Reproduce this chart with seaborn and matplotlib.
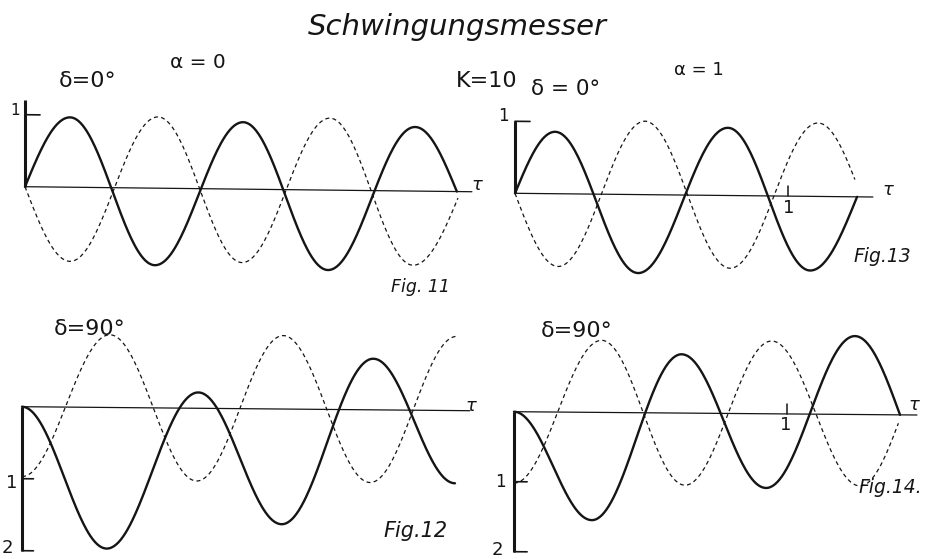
import numpy as np
import pandas as pd
import matplotlib
matplotlib.use("Agg")
import matplotlib.pyplot as plt
import matplotlib.transforms as mtransforms
import seaborn as sns

sns.set_theme(style="white")
plt.rcParams["font.family"] = ["DejaVu Sans"]

# ---- turning points of each trace (tau, amplitude) ----
# Fig. 11  (alpha = 0, delta = 0 deg)
fig11_solid_tau = [0.000, 0.165, 0.476, 0.799, 1.110, 1.429, 1.582]
fig11_solid_val = [0.00, 0.97, -1.07, 0.93, -1.11, 0.89, 0.00]
fig11_dash_tau = [0.000, 0.165, 0.487, 0.795, 1.117, 1.421, 1.586]
fig11_dash_val = [0.00, -1.03, 0.99, -1.02, 1.00, -1.03, -0.09]

# Fig. 12  (alpha = 0, delta = 90 deg)
fig12_solid_tau = [0.000, 0.310, 0.646, 0.951, 1.287, 1.586]
fig12_solid_val = [0.00, -1.96, 0.22, -1.60, 0.71, -1.01]
fig12_dash_tau = [0.000, 0.322, 0.640, 0.957, 1.275, 1.592]
fig12_dash_val = [-0.97, 1.01, -1.01, 1.02, -1.01, 1.03]

# Fig. 13  (alpha = 1, delta = 0 deg)
fig13_solid_tau = [0.000, 0.147, 0.451, 0.780, 1.081, 1.253]
fig13_solid_val = [0.00, 0.86, -1.09, 0.94, -1.03, 0.00]
fig13_dash_tau = [0.000, 0.158, 0.476, 0.788, 1.110, 1.245]
fig13_dash_val = [0.00, -1.01, 1.02, -1.01, 1.02, 0.24]

# Fig. 14  (alpha = 1, delta = 90 deg)
fig14_solid_tau = [0.000, 0.285, 0.614, 0.923, 1.249, 1.414]
fig14_solid_val = [0.00, -1.54, 0.84, -1.06, 1.12, 0.00]
fig14_dash_tau = [0.000, 0.321, 0.626, 0.944, 1.267, 1.408]
fig14_dash_val = [-1.02, 1.03, -1.03, 1.04, -1.02, -0.12]

W, H = 927, 559
UX = 273.0  # pixels per unit tau
INK = "#151515"


def trace(t, v, open_start, open_end, n=80):
    """Smooth sinusoidal arcs between consecutive turning points."""
    xs, ys = [], []
    last = len(t) - 2
    for i in range(len(t) - 1):
        t0, t1, y0, y1 = t[i], t[i + 1], v[i], v[i + 1]
        s = np.linspace(0, 1, n)
        if i == 0 and open_start:
            th = np.arccos(np.clip(y0 / y1, -1, 1))
            y = y1 * np.cos(th * (1 - s))
        elif i == last and open_end:
            th = np.arccos(np.clip(y1 / y0, -1, 1))
            y = y0 * np.cos(th * s)
        else:
            y = y0 + (y1 - y0) * (1 - np.cos(np.pi * s)) / 2
        xs.append(t0 + (t1 - t0) * s)
        ys.append(y)
    return pd.DataFrame({"tau": np.concatenate(xs), "value": np.concatenate(ys)})


fig = plt.figure(figsize=(W / 100, H / 100), dpi=100)
fig.patch.set_facecolor("white")


def panel(rect, origin, uy, k):
    x0, x1, ytop, ybot = rect
    ax = fig.add_axes([x0 / W, 1 - ybot / H, (x1 - x0) / W, (ybot - ytop) / H])
    ox, oy = origin
    ax.set_xlim((x0 - ox) / UX, (x1 - ox) / UX)
    ax.set_ylim((oy - ybot) / uy, (oy - ytop) / uy)
    ax.axis("off")
    ax.patch.set_alpha(0)
    ax._shear = mtransforms.Affine2D().skew(0, np.arctan(k)) + ax.transData
    return ax


def draw_curves(ax, solid, dash):
    d = trace(*dash)
    sns.lineplot(data=d, x="tau", y="value", ax=ax, sort=False, estimator=None,
                 color=INK, lw=0.9, linestyle=(0, (3.2, 2.6)))
    s = trace(*solid)
    sns.lineplot(data=s, x="tau", y="value", ax=ax, sort=False, estimator=None,
                 color=INK, lw=1.7)


def frame(ax, x_end, y_top, yticks, tick_len, tau_tick=None, uy=72):
    ax.plot([0, x_end], [0, 0], color=INK, lw=0.9)
    ax.plot([0, 0], [0, y_top], color=INK, lw=2.2, solid_capstyle="butt")
    for yt in yticks:
        ax.plot([0, tick_len], [yt, yt], color=INK, lw=1.2)
    if tau_tick is not None:
        ax.plot([tau_tick, tau_tick], [0, 10 / uy], color=INK, lw=1.1)
    for ln in ax.lines:
        ln.set_transform(ax._shear)


# Fig. 11
ax11 = panel((0, 495, 90, 300), (25, 186.7), 72, -0.0426)
draw_curves(ax11, (fig11_solid_tau, fig11_solid_val, True, True),
            (fig11_dash_tau, fig11_dash_val, True, True))
frame(ax11, 1.637, 1.20, [1], 0.055)

# Fig. 13
ax13 = panel((495, 927, 90, 300), (515, 193.3), 72, -0.0392)
draw_curves(ax13, (fig13_solid_tau, fig13_solid_val, True, True),
            (fig13_dash_tau, fig13_dash_val, True, True))
frame(ax13, 1.311, 1.0, [1], 0.055, tau_tick=1.0)

# Fig. 12
ax12 = panel((0, 495, 300, 559), (22, 406.7), 72, -0.0339)
draw_curves(ax12, (fig12_solid_tau, fig12_solid_val, False, False),
            (fig12_dash_tau, fig12_dash_val, False, False))
frame(ax12, 1.641, -2.0, [-1, -2], 0.042)

# Fig. 14
ax14 = panel((495, 927, 300, 559), (514, 411.7), 70, -0.0319)
draw_curves(ax14, (fig14_solid_tau, fig14_solid_val, False, True),
            (fig14_dash_tau, fig14_dash_val, False, True))
frame(ax14, 1.476, -2.0, [-1, -2], 0.048, tau_tick=1.0, uy=70)


def ftext(px, py, s, size, ha="center", **kw):
    fig.text(px / W, 1 - py / H, s, ha=ha, va="baseline", fontsize=size,
             color=INK, **kw)


# headings
ftext(457, 35, "Schwingungsmesser", 21, fontstyle="oblique", fontweight="light")
ftext(198, 68, "α = 0", 14.5)
ftext(699, 75, "α = 1", 13)
ftext(487, 87, "K=10", 16)
ftext(88, 87, "δ=0°", 16)
ftext(566, 95, "δ = 0°", 15.5)
ftext(90, 335, "δ=90°", 16)
ftext(577, 337, "δ=90°", 16)

# figure numbers
ftext(420, 292, "Fig. 11", 12.5, fontstyle="oblique")
ftext(882, 262, "Fig.13", 13.5, fontstyle="oblique")
ftext(415, 537, "Fig.12", 15, fontstyle="oblique")
ftext(890, 493, "Fig.14.", 13.5, fontstyle="oblique")

# axis labels
ftext(477, 190, r"$\tau$", 13)
ftext(888, 195, r"$\tau$", 13)
ftext(471, 411, r"$\tau$", 13)
ftext(914, 410, r"$\tau$", 13)

ftext(15, 115, "1", 11)
ftext(503, 121, "1", 12)
ftext(789, 213, "1", 13)
ftext(12, 488, "1", 13)
ftext(7, 553, "2", 13)
ftext(500, 487, "1", 12)
ftext(497, 555, "2", 13)
ftext(786, 430, "1", 13)

fig.savefig("out.png", dpi=100, facecolor="white")
